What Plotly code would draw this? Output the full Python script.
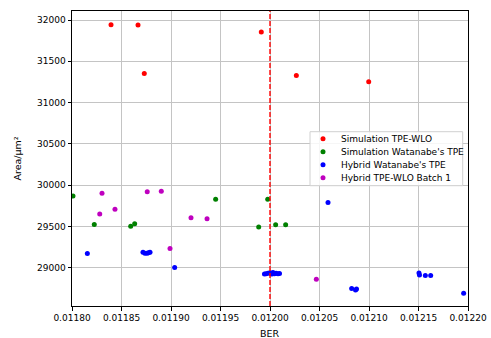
import plotly.graph_objects as go

# --- data ---------------------------------------------------------------
sim_tpe_wlo_ber = [0.0118394, 0.0118667, 0.0118730, 0.0119912, 0.0120266, 0.0120997]
sim_tpe_wlo_area = [31943, 31940, 31353, 31854, 31328, 31252]

sim_watanabe_ber = [0.0118010, 0.0118225, 0.0118593, 0.0118633, 0.0119451,
                    0.0119977, 0.0119886, 0.0120057, 0.0120158]
sim_watanabe_area = [29870, 29524, 29505, 29533, 29830,
                     29830, 29496, 29521, 29521]

hyb_watanabe_ber = [0.0118155, 0.0118717, 0.0118737, 0.0118758, 0.0118773, 0.0118788,
                    0.0119037, 0.0120586,
                    0.0119944, 0.0119960, 0.0119980, 0.0120000, 0.0120010, 0.0120020,
                    0.0120030, 0.0120045, 0.0120061, 0.0120081, 0.0120096,
                    0.0120825, 0.0120864, 0.0120874,
                    0.0121505, 0.0121510, 0.0121569, 0.0121623, 0.0121956]
hyb_watanabe_area = [29175, 29190, 29178, 29178, 29184, 29190,
                     29005, 29793,
                     28925, 28930, 28935, 28940, 28930, 28925,
                     28945, 28930, 28935, 28928, 28932,
                     28750, 28732, 28744,
                     28939, 28915, 28908, 28908, 28693]

hyb_tpe_wlo_ber = [0.0118303, 0.0118280, 0.0118434, 0.0118760, 0.0118902,
                   0.0118990, 0.0119202, 0.0119364, 0.0120468]
hyb_tpe_wlo_area = [29903, 29652, 29709, 29922, 29927,
                    29235, 29606, 29594, 28863]

target_ber = 0.0120

series = [
    ("Simulation TPE-WLO", sim_tpe_wlo_ber, sim_tpe_wlo_area, "#ff0000"),
    ("Simulation Watanabe's TPE", sim_watanabe_ber, sim_watanabe_area, "#008000"),
    ("Hybrid Watanabe's TPE", hyb_watanabe_ber, hyb_watanabe_area, "#0000ff"),
    ("Hybrid TPE-WLO Batch 1", hyb_tpe_wlo_ber, hyb_tpe_wlo_area, "#bf00bf"),
]

FONT = "DejaVu Sans"

fig = go.Figure()
for name, xs, ys, color in series:
    fig.add_trace(go.Scatter(
        x=xs, y=ys, mode="markers", name=name, showlegend=False,
        marker=dict(size=5, color=color, line=dict(width=0)),
    ))

# plot-area geometry (pixels) used for the hand-drawn legend
W, H = 491, 338
ML, MR, MT, MB = 72, 23, 11, 32
PW, PH = W - ML - MR, H - MT - MB


def px_x(p):
    return (p - ML) / PW


def px_y(p):
    return (H - MB - p) / PH


shapes = [
    dict(type="line", xref="x", yref="paper", x0=target_ber, x1=target_ber,
         y0=0, y1=1, line=dict(color="#ff0000", width=1.4, dash="5px,2px"),
         layer="above"),
    dict(type="rect", xref="paper", yref="paper",
         x0=px_x(310), x1=px_x(462.7), y0=px_y(185.7), y1=px_y(131.7),
         fillcolor="rgba(255,255,255,0.85)", line=dict(color="#d0d0d0", width=1),
         layer="above"),
]
annotations = []
row_y = [138.7, 151.7, 164.7, 177.7]
for (name, _, _, color), ry in zip(series, row_y):
    shapes.append(dict(
        type="circle", xref="paper", yref="paper",
        xsizemode="pixel", ysizemode="pixel",
        xanchor=px_x(323), yanchor=px_y(ry),
        x0=-2.5, x1=2.5, y0=-2.5, y1=2.5,
        fillcolor=color, line=dict(width=0), layer="above",
    ))
    annotations.append(dict(
        x=px_x(339), y=px_y(ry), xref="paper", yref="paper",
        xanchor="left", yanchor="middle", showarrow=False, text=name,
        font=dict(family=FONT, size=9, color="#000000"),
    ))

# axis titles
annotations.append(dict(
    x=px_x(270), y=px_y(333), xref="paper", yref="paper",
    xanchor="center", yanchor="middle", showarrow=False, text="BER",
    font=dict(family=FONT, size=9.5, color="#000000"),
))
annotations.append(dict(
    x=px_x(17), y=px_y(158.5), xref="paper", yref="paper",
    xanchor="center", yanchor="middle", showarrow=False, text="Area/μm²",
    textangle=-90, font=dict(family=FONT, size=9.5, color="#000000"),
))

axis_common = dict(
    showgrid=True, gridcolor="#c4c4c4", gridwidth=1,
    showline=True, linecolor="#000000", linewidth=1, mirror=True,
    ticks="outside", ticklen=3.5, tickwidth=0.8, tickcolor="#000000",
    tickfont=dict(family=FONT, size=9, color="#000000"),
    zeroline=False, automargin=False,
)

fig.update_layout(
    width=W, height=H,
    margin=dict(l=ML, r=MR, t=MT, b=MB, pad=0, autoexpand=False),
    paper_bgcolor="#ffffff", plot_bgcolor="#ffffff",
    font=dict(family=FONT, size=9, color="#000000"),
    showlegend=False,
    xaxis=dict(range=[0.0118, 0.0122], dtick=0.00005, tick0=0.0118,
               tickformat=".5f", **axis_common),
    yaxis=dict(range=[28539, 32109], dtick=500, tick0=0,
               tickformat="d", **axis_common),
    shapes=shapes,
    annotations=annotations,
)

fig.write_html("out.html")
